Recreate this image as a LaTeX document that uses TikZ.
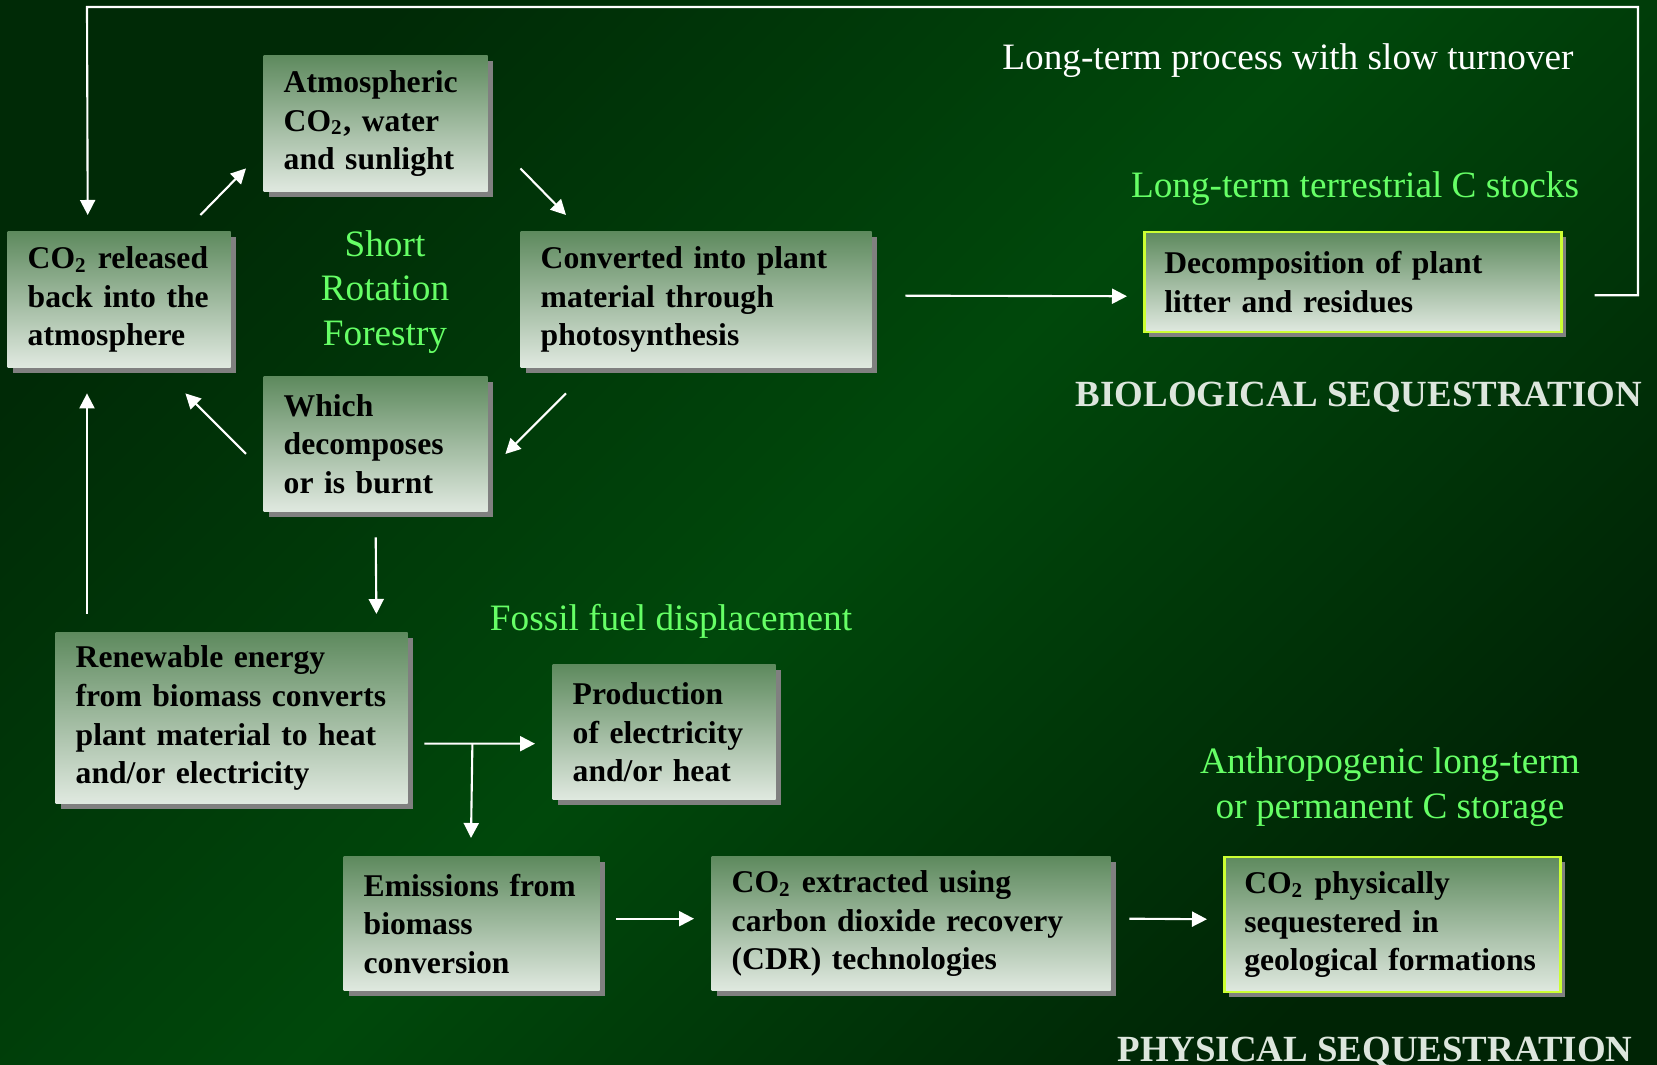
\documentclass[tikz,border=0pt]{standalone}
\usepackage{fontspec}
\setmainfont{Liberation Serif}
\usetikzlibrary{arrows.meta,shadows}
\definecolor{bgdark}{HTML}{002A06}
\definecolor{bgmid}{HTML}{00480B}
\definecolor{boxtop}{HTML}{5E8A5E}
\definecolor{boxbot}{HTML}{E0E9E0}
\definecolor{shadowgray}{HTML}{808080}
\definecolor{labelgreen}{HTML}{66FF66}
\definecolor{keyborder}{HTML}{CCFF33}
\definecolor{capsgray}{HTML}{DDE6DD}
\tikzset{
  box/.style={rectangle,anchor=north west,align=left,inner xsep=2mm,inner ysep=0pt,
    top color=boxtop,bottom color=boxbot,
    drop shadow={shadow xshift=0.5mm,shadow yshift=-0.5mm,fill=shadowgray,opacity=1},
    font=\fontsize{9}{11}\selectfont\bfseries},
  keybox/.style={box,draw=keyborder,line width=0.25mm},
  lbl/.style={text=labelgreen,align=center,font=\fontsize{10.6}{12.6}\selectfont},
  caps/.style={text=capsgray,font=\fontsize{10.5}{12}\selectfont\bfseries},
  arr/.style={draw=white,line width=0.6pt,-{Triangle[length=1.5mm,width=1.5mm]}}
}

\begin{document}
\begin{tikzpicture}[x=0.1mm,y=-0.1mm]
\useasboundingbox (0,0) rectangle (1657,1065);
\shade[top color=bgdark,bottom color=bgdark!85!black,middle color=bgmid,shading angle=45] (0,0) rectangle (1657,1065);
% short rotation cycle
\path (263,55) node[box,text width=18.4mm,minimum height=13.6mm] (atmo) {Atmospheric\\CO\textsubscript{2}, water\\and sunlight};
\path (7,231) node[box,text width=18.3mm,minimum height=13.6mm] (rel) {CO\textsubscript{2} released\\back into the\\atmosphere};
\path (520,231) node[box,text width=31.1mm,minimum height=13.6mm] (conv) {Converted into plant\\material through\\photosynthesis};
\path (263,376) node[box,text width=18.4mm,minimum height=13.5mm] (which) {Which\\decomposes\\or is burnt};
\path (385,292) node[lbl] (srflbl) {Short\\Rotation\\Forestry};
\draw[arr] ([shift={(-31,-16)}]rel.north east) -- ([shift={(-17,-24)}]atmo.south west);
\draw[arr] ([shift={(32,-24)}]atmo.south east) -- ([shift={(46,-16)}]conv.north west);
\draw[arr] ([shift={(46,25)}]conv.south west) -- ([shift={(17,78)}]which.north east);
\draw[arr] ([shift={(-17,78)}]which.north west) -- ([shift={(-46,25)}]rel.south east);
% biological sequestration
\path (1143,231) node[keybox,text width=37.7mm,minimum height=10mm] (decomp) {Decomposition of plant\\litter and residues};
\path (1288,61) node[lbl,text=white] (slowlbl) {Long-term process with slow turnover};
\path (1355,189) node[lbl] (stocklbl) {Long-term terrestrial C stocks};
\path (1359,397) node[caps] (biolbl) {BIOLOGICAL SEQUESTRATION};
\draw[arr] ([shift={(33,-4)}]conv.east) -- ([shift={(-16,14)}]decomp.west);
\coordinate (loopr) at (1638,7);
\coordinate (loopl) at (87,7);
\draw[arr] ([shift={(32,13)}]decomp.east) -| (loopr) -- (loopl) -- ([shift={(-31.5,-16)}]rel.north);
% bioenergy
\path (55,632) node[box,text width=31.2mm,minimum height=17.1mm] (renew) {Renewable energy\\from biomass converts\\plant material to heat\\and/or electricity};
\path (552,664) node[box,text width=18.3mm,minimum height=13.5mm] (prod) {Production\\of electricity\\and/or heat};
\path (671,621) node[lbl] (fossillbl) {Fossil fuel displacement};
\draw[arr] ([shift={(0,25)}]which.south) -- ([shift={(-32,-18)}]renew.north east);
\draw[arr] ([shift={(32,-18)}]renew.north west) -- ([shift={(80,25)}]rel.south west);
\coordinate (split) at ([shift={(64,25.5)}]renew.east);
\draw[arr] ([shift={(16,25.5)}]renew.east) -- ([shift={(-17,11.5)}]prod.west);
% physical sequestration
\path (343,856) node[box,text width=21.6mm,minimum height=13.4mm] (emis) {Emissions from\\biomass\\conversion};
\path (711,856) node[box,text width=35.9mm,minimum height=13.4mm] (extr) {CO\textsubscript{2} extracted using\\carbon dioxide recovery\\(CDR) technologies};
\path (1223,856) node[keybox,text width=29.6mm,minimum height=13.5mm] (phys) {CO\textsubscript{2} physically\\sequestered in\\geological formations};
\path (1390,787) node[lbl] (anthrolbl) {Anthropogenic long-term\\or permanent C storage};
\path (1375,1052) node[caps] (physlbl) {PHYSICAL SEQUESTRATION};
\draw[arr] (split) -- ([shift={(128,-18)}]emis.north west);
\draw[arr] ([shift={(16,-5)}]emis.east) -- ([shift={(-17,-5)}]extr.west);
\draw[arr] ([shift={(18,-5)}]extr.east) -- ([shift={(-16,-5.5)}]phys.west);
\end{tikzpicture}
\end{document}
